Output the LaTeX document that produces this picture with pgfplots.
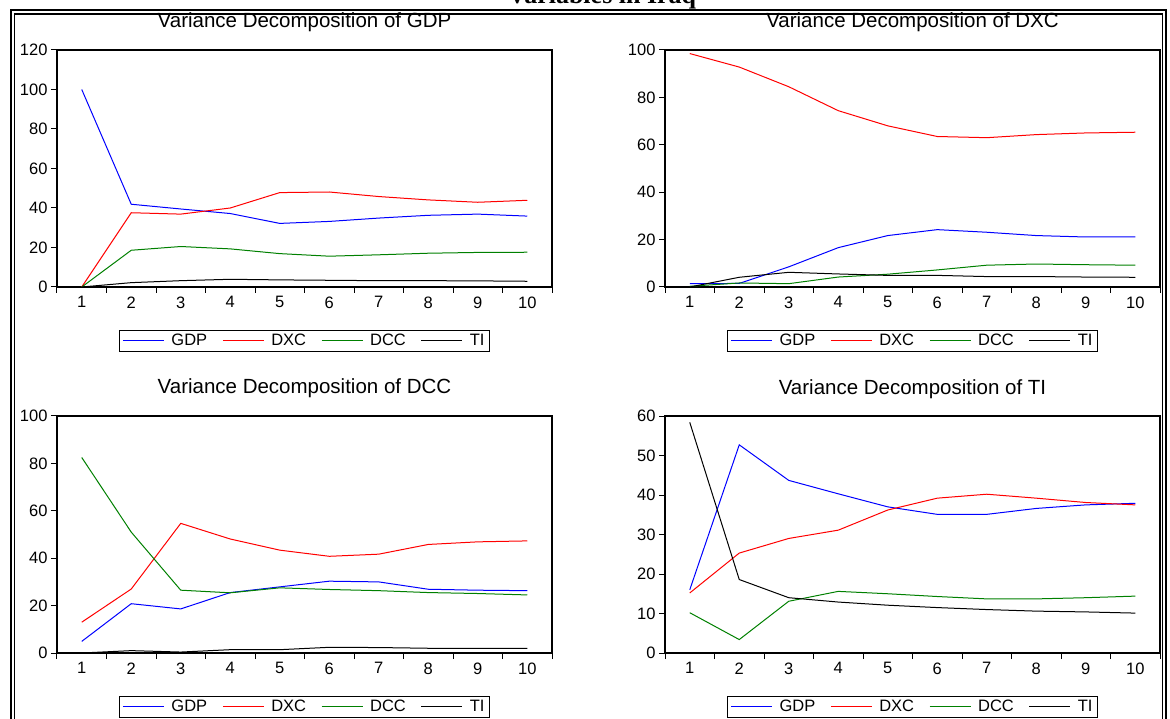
\documentclass[border=0pt]{standalone}
\usepackage{fontspec}
\setmainfont{Liberation Sans}
\newfontfamily\timesfont{Liberation Serif}
\usepackage{pgfplots}
\pgfplotsset{compat=1.18}

\definecolor{eblue}{RGB}{0,0,255}
\definecolor{ered}{RGB}{255,0,0}
\definecolor{egreen}{RGB}{0,128,0}

\pgfplotsset{
  vdbase/.style={
    scale only axis, width=495pt, height=237pt,
    xmin=0.5, xmax=10.5, ymin=0,
    xtick={1,...,10},
    minor xtick={0.5,1.5,...,10.5},
    major x tick style={draw=none},
    tick align=outside,
    xtick pos=bottom, ytick pos=left,
    major tick length=6pt, minor tick length=6pt,
    axis line style={line width=1.1pt},
    tick style={line width=1pt, black},
    every tick label/.append style={font=\fontsize{16.5}{18}\selectfont},
    /pgf/number format/assume math mode=true,
    title style={font=\fontsize{20.5}{22}\selectfont, at={(0.5,1)}, anchor=base, yshift=16pt},
    legend columns=4,
    legend style={at={(0.5,0)}, anchor=north, yshift=-43pt, draw=black, line width=0.8pt,
      font=\fontsize{16.5}{18}\selectfont,
      /tikz/every odd column/.append style={column sep=5pt},
      /tikz/every even column/.append style={column sep=13pt}},
    legend image code/.code={\draw[##1] (0pt,0pt) -- (41pt,0pt);},
    every axis plot/.append style={line width=1pt, no markers},
  }
}

\begin{document}
\begin{tikzpicture}[x=1pt,y=1pt]
\useasboundingbox (0,0) rectangle (1170,718);
% frame
\draw[line width=2.6pt] (11,-20) -- (11,708) -- (1166,708) -- (1166,-20);
\draw[line width=1.2pt] (14.5,-20) -- (14.5,704) -- (1162.5,704) -- (1162.5,-20);
\node[font=\timesfont\bfseries\fontsize{26}{28}\selectfont, anchor=base] at (602,714.5) {Variables in Iraq};

% Panel 1
\begin{axis}[vdbase, at={(57pt,431pt)}, anchor=south west,
  ymax=120, ytick={0,20,...,120}, title={Variance Decomposition of GDP}]
\addplot[color=eblue] coordinates {(1,100) (2,41.9) (3,39.5) (4,37.2) (5,32.2) (6,33.2) (7,34.9) (8,36.3) (9,36.9) (10,35.9)};
\addlegendentry{GDP}
\addplot[color=ered] coordinates {(1,0) (2,37.6) (3,36.9) (4,40.0) (5,47.8) (6,48.1) (7,45.8) (8,44.1) (9,42.9) (10,43.9)};
\addlegendentry{DXC}
\addplot[color=egreen] coordinates {(1,0) (2,18.6) (3,20.5) (4,19.3) (5,16.9) (6,15.6) (7,16.3) (8,17.1) (9,17.5) (10,17.6)};
\addlegendentry{DCC}
\addplot[color=black] coordinates {(1,0) (2,2.2) (3,3.2) (4,3.9) (5,3.6) (6,3.4) (7,3.2) (8,3.2) (9,3.1) (10,2.9)};
\addlegendentry{TI}
\end{axis}

% Panel 2
\begin{axis}[vdbase, at={(665pt,431pt)}, anchor=south west,
  ymax=100, ytick={0,20,...,100}, title={Variance Decomposition of DXC}]
\addplot[color=eblue] coordinates {(1,1.4) (2,1.5) (3,8.5) (4,16.6) (5,21.7) (6,24.2) (7,23.1) (8,21.7) (9,21.1) (10,21.1)};
\addlegendentry{GDP}
\addplot[color=ered] coordinates {(1,98.5) (2,92.8) (3,84.5) (4,74.4) (5,68.0) (6,63.5) (7,63.0) (8,64.3) (9,65.0) (10,65.3)};
\addlegendentry{DXC}
\addplot[color=egreen] coordinates {(1,0.3) (2,1.7) (3,1.4) (4,4.2) (5,5.4) (6,7.2) (7,9.2) (8,9.7) (9,9.4) (10,9.2)};
\addlegendentry{DCC}
\addplot[color=black] coordinates {(1,0) (2,4.1) (3,6.2) (4,5.5) (5,4.9) (6,4.9) (7,4.4) (8,4.4) (9,4.2) (10,4.1)};
\addlegendentry{TI}
\end{axis}

% Panel 3
\begin{axis}[vdbase, at={(57pt,65pt)}, anchor=south west,
  ymax=100, ytick={0,20,...,100}, title={Variance Decomposition of DCC}]
\addplot[color=eblue] coordinates {(1,4.9) (2,20.8) (3,18.6) (4,25.5) (5,27.9) (6,30.3) (7,30.0) (8,26.9) (9,26.5) (10,26.3)};
\addlegendentry{GDP}
\addplot[color=ered] coordinates {(1,13.0) (2,27.0) (3,54.7) (4,48.1) (5,43.4) (6,40.8) (7,41.7) (8,45.8) (9,46.9) (10,47.3)};
\addlegendentry{DXC}
\addplot[color=egreen] coordinates {(1,82.5) (2,51.0) (3,26.5) (4,25.4) (5,27.5) (6,26.8) (7,26.3) (8,25.5) (9,25.1) (10,24.5)};
\addlegendentry{DCC}
\addplot[color=black] coordinates {(1,0) (2,1.0) (3,0.4) (4,1.4) (5,1.4) (6,2.4) (7,2.3) (8,2.0) (9,2.0) (10,2.0)};
\addlegendentry{TI}
\end{axis}

% Panel 4
\begin{axis}[vdbase, at={(665pt,65pt)}, anchor=south west,
  ymax=60, ytick={0,10,...,60}, title={Variance Decomposition of TI}]
\addplot[color=eblue] coordinates {(1,16.0) (2,52.7) (3,43.7) (4,40.3) (5,37.0) (6,35.1) (7,35.1) (8,36.6) (9,37.5) (10,37.9)};
\addlegendentry{GDP}
\addplot[color=ered] coordinates {(1,15.2) (2,25.3) (3,29.0) (4,31.1) (5,36.2) (6,39.2) (7,40.2) (8,39.2) (9,38.1) (10,37.5)};
\addlegendentry{DXC}
\addplot[color=egreen] coordinates {(1,10.2) (2,3.4) (3,13.1) (4,15.6) (5,15.0) (6,14.3) (7,13.7) (8,13.7) (9,14.0) (10,14.4)};
\addlegendentry{DCC}
\addplot[color=black] coordinates {(1,58.4) (2,18.6) (3,14.0) (4,12.9) (5,12.1) (6,11.5) (7,11.0) (8,10.6) (9,10.4) (10,10.1)};
\addlegendentry{TI}
\end{axis}
\end{tikzpicture}
\end{document}
